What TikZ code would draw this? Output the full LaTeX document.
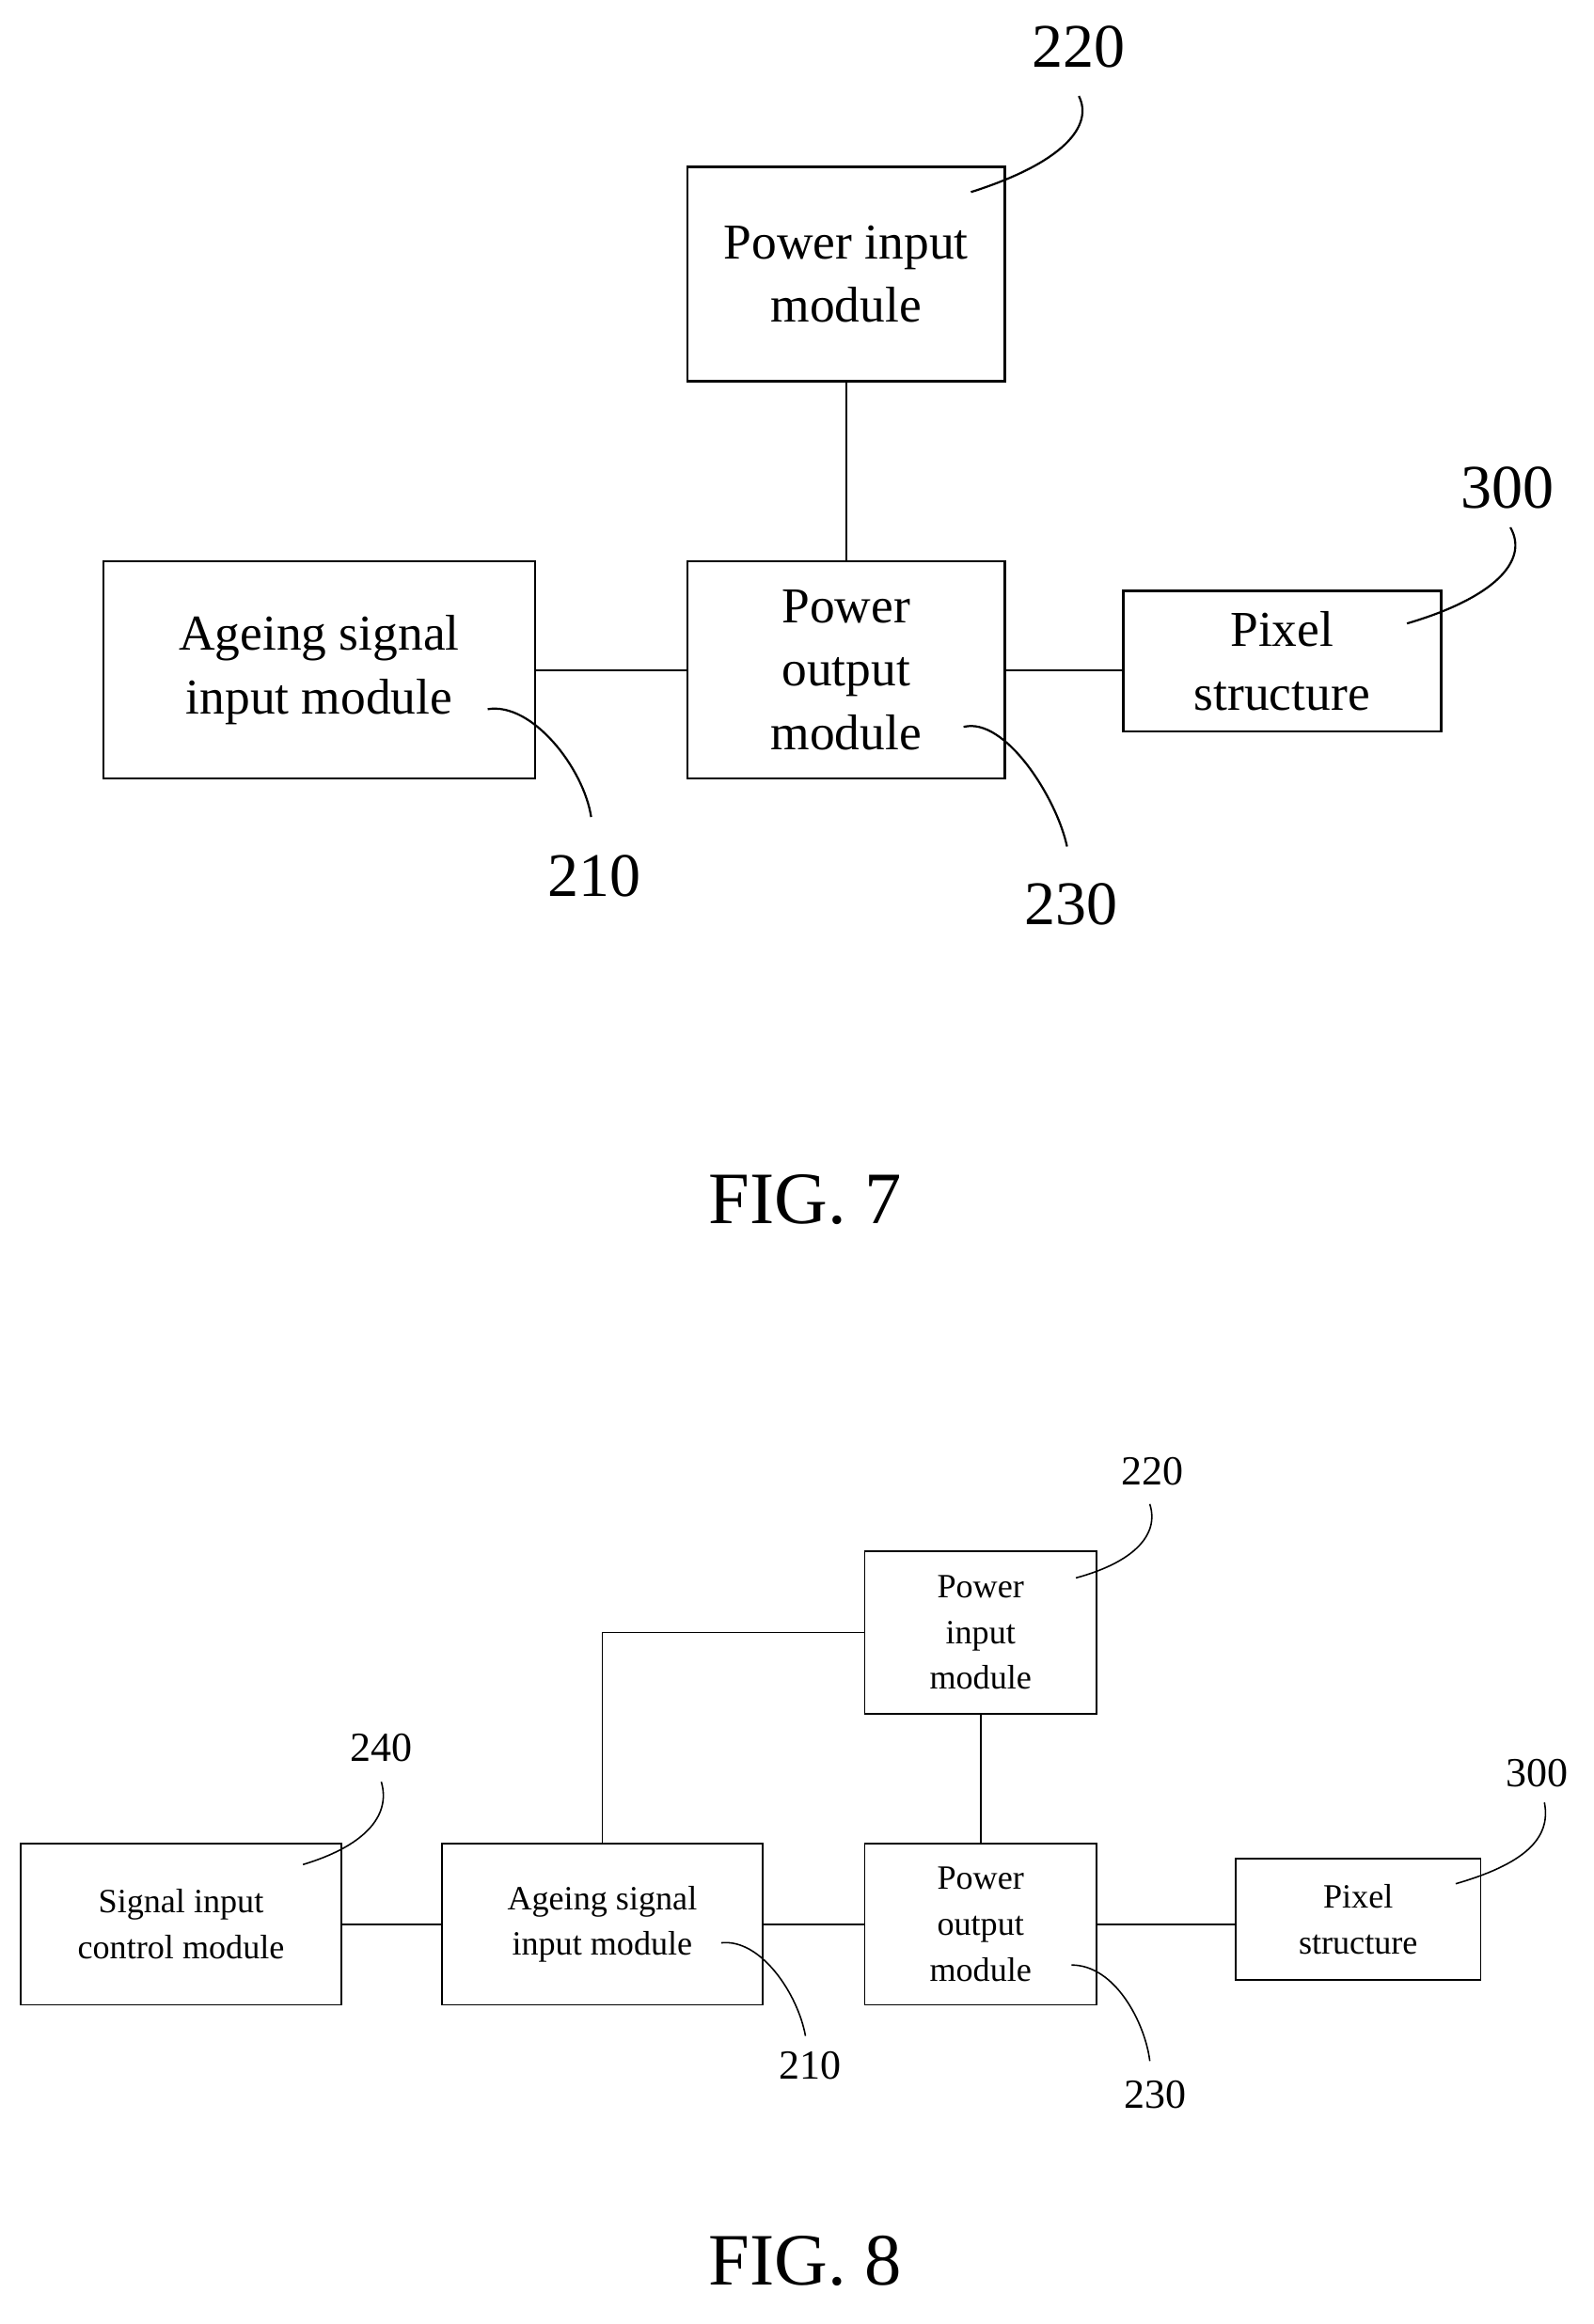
\documentclass[tikz,border=0pt]{standalone}
\usepackage{fontspec}
\setmainfont{Liberation Serif}
\begin{document}
\begin{tikzpicture}[x=1pt,y=-1pt,
  bx/.style={draw,line width=1.6pt,align=center,inner sep=0pt,font=\fontsize{34}{43}\selectfont},
  sb/.style={draw,line width=1pt,align=center,inner sep=0pt,font=\fontsize{23}{31}\selectfont},
  ln/.style={line width=1.4pt},
  sl/.style={line width=1pt},
  lb/.style={font=\fontsize{42}{42}\selectfont},
  sm/.style={font=\fontsize{28}{28}\selectfont}]
\useasboundingbox (0,0) rectangle (1078,1573);
% FIG 7
\node[bx,minimum width=215,minimum height=145] (pi) at (572.5,185.5) {Power input\\module};
\node[bx,minimum width=292,minimum height=147] (ag) at (216,453.5) {Ageing signal\\input module};
\node[bx,minimum width=215,minimum height=147] (po) at (572.5,453.5) {Power\\output\\module};
\node[bx,minimum width=215,minimum height=95] (px) at (867.5,447.5) {Pixel\\structure};
\draw[ln] (pi) -- (po);
\draw[ln] (ag.east) -- (po.west);
\draw[ln] (po.east) -- (po.east -| px.west);
\node[lb] (l220) at (730,32) {220};
\node[lb] (l300) at (1020,330) {300};
\node[lb] (l210) at (402,593) {210};
\node[lb] (l230) at (725,612) {230};
\coordinate (c220) at (657,130); \coordinate (c300) at (952,422);
\coordinate (c210) at (330,480); \coordinate (c230) at (652,492);
\draw[ln] (c220) .. controls (720,110) and (740,85) .. (730,65);
\draw[ln] (c300) .. controls (1010,405) and (1035,380) .. (1022,357);
\draw[ln] (c210) .. controls (360,475) and (395,520) .. (400,553);
\draw[ln] (c230) .. controls (680,485) and (715,540) .. (722,573);
\node[font=\fontsize{50}{50}\selectfont] (f7) at (545,812) {FIG. 7};
% FIG 8
\node[sb,minimum width=157,minimum height=110] (pi2) at (663.5,1105) {Power\\input\\module};
\node[sb,minimum width=217,minimum height=109] (sc) at (122.5,1302.5) {Signal input\\control module};
\node[sb,minimum width=217,minimum height=109] (ag2) at (407.5,1302.5) {Ageing signal\\input module};
\node[sb,minimum width=157,minimum height=109] (po2) at (663.5,1302.5) {Power\\output\\module};
\node[sb,minimum width=166,minimum height=82] (px2) at (919,1299) {Pixel\\structure};
\draw[sl] (ag2.north) |- (pi2.west);
\draw[sl] (pi2) -- (po2);
\draw[sl] (sc.east) -- (ag2.west);
\draw[sl] (ag2.east) -- (po2.west);
\draw[sl] (po2.east) -- (po2.east -| px2.west);
\node[sm] (m220) at (780,996) {220};
\node[sm] (m240) at (258,1183) {240};
\node[sm] (m300) at (1040,1200) {300};
\node[sm] (m210) at (548,1398) {210};
\node[sm] (m230) at (782,1418) {230};
\coordinate (d220) at (728,1068); \coordinate (d240) at (205,1262);
\coordinate (d300) at (985,1275); \coordinate (d210) at (488,1315);
\coordinate (d230) at (725,1330);
\draw[sl] (d220) .. controls (765,1058) and (785,1040) .. (778,1018);
\draw[sl] (d240) .. controls (245,1250) and (265,1230) .. (258,1206);
\draw[sl] (d300) .. controls (1030,1262) and (1050,1245) .. (1045,1220);
\draw[sl] (d210) .. controls (515,1312) and (540,1350) .. (545,1378);
\draw[sl] (d230) .. controls (755,1330) and (775,1370) .. (778,1395);
\node[font=\fontsize{50}{50}\selectfont] (f8) at (545,1530) {FIG. 8};
\end{tikzpicture}
\end{document}
